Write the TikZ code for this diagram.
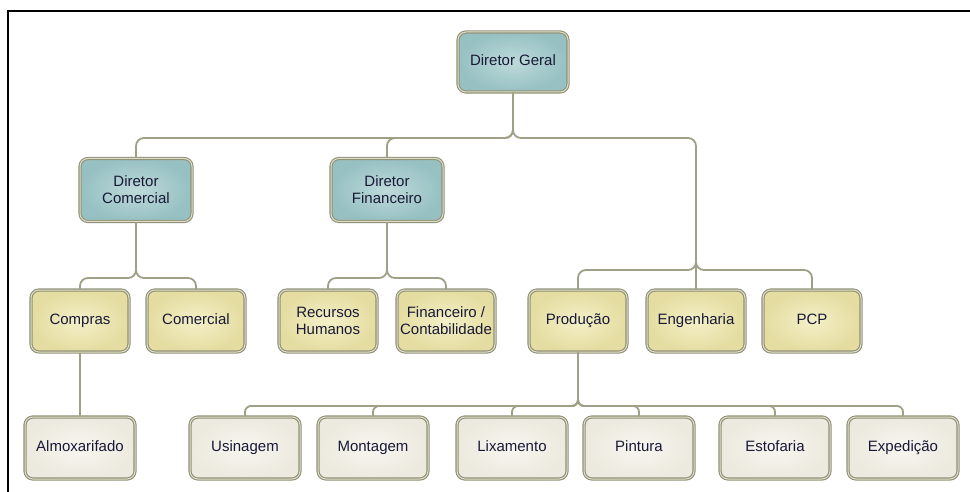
\documentclass[tikz,border=0pt]{standalone}
\usepackage{fontspec}
\setmainfont{Liberation Sans}
\usetikzlibrary{shadows}
\definecolor{bordout}{RGB}{145,145,118}
\definecolor{bordin}{RGB}{222,222,205}
\definecolor{linkc}{RGB}{160,160,135}
\definecolor{txt}{RGB}{25,25,55}
\definecolor{tealin}{RGB}{190,218,218}
\definecolor{tealout}{RGB}{150,192,194}
\definecolor{yelin}{RGB}{244,240,200}
\definecolor{yelout}{RGB}{228,220,160}
\definecolor{greyin}{RGB}{247,246,240}
\definecolor{greyout}{RGB}{236,234,222}
\tikzset{
  orgbox/.style={rounded corners=8pt, draw=bordout, double=bordin, double distance=1pt,
    line width=1.1pt, align=center, text=txt, inner sep=2pt,
    font=\fontsize{15}{17}\selectfont,
    drop shadow={opacity=0.18, shadow xshift=1pt, shadow yshift=-1.2pt}},
  oneline/.style={text height=10.8pt, text depth=3.2pt},
  tealbox/.style={orgbox, inner color=tealin, outer color=tealout, minimum width=110pt, minimum height=62pt},
  yelbox/.style={orgbox, inner color=yelin, outer color=yelout, minimum width=98pt, minimum height=62pt},
  greybox/.style={orgbox, oneline, inner color=greyin, outer color=greyout, minimum width=110pt, minimum height=62pt},
  link/.style={draw=linkc, line width=1.8pt, rounded corners=8pt},
  sublink/.style={draw=linkc, line width=1.8pt, rounded corners=6pt}
}
\begin{document}
\begin{tikzpicture}[x=1pt,y=-1pt]
\useasboundingbox (0,0) rectangle (970,492);
\fill[white] (0,0) rectangle (970,492);
% frame
\draw[line width=2.7pt, line cap=rect] (8,492) -- (8,11) -- (972,11);

% nodes
\node[tealbox, oneline, minimum height=60pt] (dg) at (513,62) {Diretor Geral};
\node[tealbox, minimum width=112pt, minimum height=63pt] (dc) at (136,190) {Diretor\\Comercial};
\node[tealbox, minimum width=112pt, minimum height=63pt] (df) at (387,190) {Diretor\\Financeiro};

\node[yelbox, oneline] (compras) at (80,321) {Compras};
\node[yelbox, oneline] (comercial) at (196,321) {Comercial};
\node[yelbox] (rh) at (328,321) {Recursos\\Humanos};
\node[yelbox] (fc) at (446,321) {Financeiro /\\Contabilidade};
\node[yelbox, oneline] (prod) at (578,321) {Produção};
\node[yelbox, oneline] (eng) at (696,321) {Engenharia};
\node[yelbox, oneline] (pcp) at (812,321) {PCP};

\node[greybox] (almox) at (80,448) {Almoxarifado};
\node[greybox] (usi) at (245,448) {Usinagem};
\node[greybox] (mon) at (373,448) {Montagem};
\node[greybox] (lix) at (512,448) {Lixamento};
\node[greybox] (pin) at (639,448) {Pintura};
\node[greybox] (est) at (775,448) {Estofaria};
\node[greybox] (exp) at (903,448) {Expedição};

% connectors level 1
\path[link] (dg.south) -- (513,138) -- (136,138) -- (dc.north);
\path[link] (dg.south) -- (513,138) -- (387,138) -- (df.north);
\path[link] (dg.south) -- (513,138) -- (696,138) -- (eng.north);
\path[link] (696,262) -- (696,270) -- (578,270) -- (prod.north);
\path[link] (696,262) -- (696,270) -- (812,270) -- (pcp.north);

% level 2
\path[link] (dc.south) -- (136,278) -- (80,278) -- (compras.north);
\path[link] (dc.south) -- (136,278) -- (196,278) -- (comercial.north);
\path[link] (df.south) -- (387,278) -- (328,278) -- (rh.north);
\path[link] (df.south) -- (387,278) -- (446,278) -- (fc.north);

% level 3
\path[link] (compras.south) -- (almox.north);
\path[sublink] (prod.south) -- (578,406) -- (245,406) -- (usi.north);
\path[sublink] (prod.south) -- (578,406) -- (373,406) -- (mon.north);
\path[sublink] (prod.south) -- (578,406) -- (512,406) -- (lix.north);
\path[sublink] (prod.south) -- (578,406) -- (639,406) -- (pin.north);
\path[sublink] (prod.south) -- (578,406) -- (775,406) -- (est.north);
\path[sublink] (prod.south) -- (578,406) -- (903,406) -- (exp.north);
\end{tikzpicture}
\end{document}
